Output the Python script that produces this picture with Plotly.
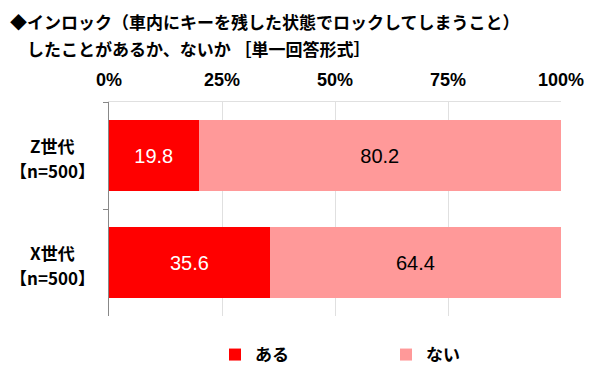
import plotly.graph_objects as go

categories = ["Z世代", "X世代"]
sample_labels = ["【n=500】", "【n=500】"]
series_names = ["ある", "ない"]
aru = [19.8, 35.6]
nai = [80.2, 64.4]
tick_vals = [0, 25, 50, 75, 100]
tick_text = ["0%", "25%", "50%", "75%", "100%"]
title_lines = ["◆インロック（車内にキーを残した状態でロックしてしまうこと）",
               "　したことがあるか、ないか ［単一回答形式］"]

FONT = "Liberation Sans, Noto Sans CJK JP, sans-serif"
JFONT = "Noto Sans CJK JP, sans-serif"

# page has an 8px body margin, so the figure is 592x380
W, H = 592, 380
L, R, T, B = 101, 39, 94, 72
PW = W - L - R
PH = H - T - B

fig = go.Figure()
fig.add_trace(go.Bar(
    y=categories, x=aru, name=series_names[0], orientation="h",
    marker=dict(color="#FF0000", line=dict(width=0)),
    text=[f"{v:.1f}" for v in aru], textposition="inside", insidetextanchor="middle",
    textfont=dict(color="white", size=20, family=FONT), width=0.66,
))
fig.add_trace(go.Bar(
    y=categories, x=nai, name=series_names[1], orientation="h",
    marker=dict(color="#FF9999", line=dict(width=0)),
    text=[f"{v:.1f}" for v in nai], textposition="inside", insidetextanchor="middle",
    textfont=dict(color="black", size=20, family=FONT), width=0.66,
))

fig.update_layout(
    width=W, height=H,
    barmode="stack",
    plot_bgcolor="white", paper_bgcolor="white",
    margin=dict(l=L, r=R, t=T, b=B, autoexpand=False),
    showlegend=True,
    legend=dict(orientation="h", x=(207 - L) / PW, xanchor="left",
                y=-21 / PH, yanchor="top",
                font=dict(size=17, family=JFONT, color="black", weight="bold"),
                entrywidth=126, entrywidthmode="pixels", itemwidth=30,
                traceorder="normal"),
    uniformtext=dict(mode="show", minsize=10),
    font=dict(family=JFONT, color="black"),
)

fig.update_xaxes(
    side="top", range=[0, 100], tickvals=tick_vals, ticktext=tick_text,
    showgrid=True, gridcolor="#E0E0E0", gridwidth=1,
    showline=True, linecolor="#E0E0E0", linewidth=1, mirror=False,
    ticks="", ticklabelstandoff=8,
    tickfont=dict(size=18, family=FONT, color="black", weight="bold"),
    zeroline=False, fixedrange=True, automargin=False,
)
fig.update_yaxes(
    autorange="reversed", showline=True, linecolor="#888888", linewidth=1,
    ticks="outside", tickson="boundaries", ticklen=5, tickcolor="#888888",
    showticklabels=False, showgrid=False, automargin=False,
)

# category labels (centred two-line labels, one annotation per line)
for cat, n in zip(categories, sample_labels):
    for txt, shift in ((cat, 10.5), (n, -14.5)):
        fig.add_annotation(
            text=txt, xref="paper", yref="y", x=(44 - L) / PW, y=cat, yshift=shift,
            xanchor="center", yanchor="middle", showarrow=False,
            font=dict(size=17, family=JFONT, color="black", weight="bold"),
        )

for line, yc in zip(title_lines, (14, 40)):
    fig.add_annotation(
        text=line, xref="paper", yref="paper", x=-L / PW, y=1 + (T - yc) / PH,
        xanchor="left", yanchor="middle", showarrow=False,
        font=dict(size=17, family=JFONT, color="black", weight="bold"),
    )

fig.write_html("out.html")
